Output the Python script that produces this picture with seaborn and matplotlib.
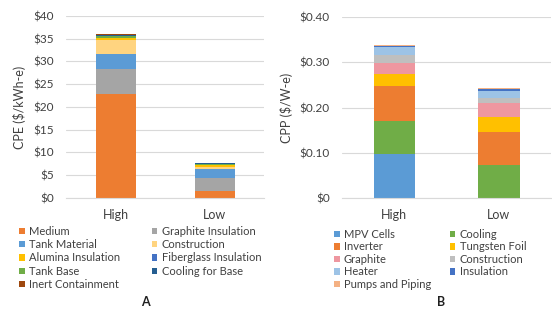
import numpy as np
import pandas as pd
import seaborn as sns
import matplotlib.pyplot as plt
from matplotlib.patches import Patch
from matplotlib.ticker import FuncFormatter

levels = ['High', 'Low']

# panel A - cost per energy
cpe_parts = ['Medium', 'Graphite Insulation', 'Tank Material', 'Construction',
             'Alumina Insulation', 'Fiberglass Insulation', 'Tank Base',
             'Cooling for Base', 'Inert Containment']
cpe_high = [22.8, 5.5, 3.2, 3.2, 0.35, 0.15, 0.35, 0.25, 0.2]
cpe_low = [1.5, 3.0, 1.8, 0.6, 0.3, 0.1, 0.2, 0.15, 0.15]
cpe_colors = ['#ED7D31', '#A5A5A5', '#5B9BD5', '#FFD480', '#FFC000',
              '#4472C4', '#70AD47', '#255E91', '#9E480E']

# panel B - cost per power
cpp_parts = ['MPV Cells', 'Cooling', 'Inverter', 'Tungsten Foil', 'Graphite',
             'Construction', 'Heater', 'Insulation', 'Pumps and Piping']
cpp_high = [0.098, 0.072, 0.077, 0.028, 0.024, 0.018, 0.017, 0.003, 0.002]
cpp_low = [0.0, 0.072, 0.073, 0.035, 0.029, 0.012, 0.016, 0.003, 0.003]
cpp_colors = ['#5B9BD5', '#70AD47', '#ED7D31', '#FFC000', '#EE97A0',
              '#BFBFBF', '#9DC3E6', '#4472C4', '#F4B183']

sns.set_theme(style="whitegrid")
plt.rcParams['font.family'] = ['Lato', 'DejaVu Sans']
txt = '#404040'


def stacked(ax, parts, high, low, colors):
    df = pd.DataFrame({'level': np.repeat(levels, len(parts)),
                       'part': parts * 2,
                       'value': high + low})
    df['top'] = df.groupby('level')['value'].cumsum()
    # draw cumulative bars from the top layer down
    for part, color in reversed(list(zip(parts, colors))):
        sns.barplot(data=df[df.part == part], x='level', y='top', order=levels,
                    color=color, saturation=1, width=0.4, errorbar=None,
                    linewidth=0, ax=ax)
    ax.grid(axis='y', color='#D9D9D9', linewidth=0.8)
    ax.grid(axis='x', visible=False)
    for s in ['left', 'right', 'top']:
        ax.spines[s].set_visible(False)
    ax.spines['bottom'].set_color('#D9D9D9')
    ax.spines['bottom'].set_linewidth(0.8)
    ax.set_xlim(-0.5, 1.5)
    ax.set_xlabel('')
    ax.tick_params(axis='y', length=0, pad=9, labelsize=8.5, labelcolor=txt)
    ax.tick_params(axis='x', length=0, pad=8, labelsize=9, labelcolor=txt)


def legend(fig, parts, colors, x0, x1, y, spacing):
    handles = [Patch(facecolor=c, edgecolor='none', label=p) for p, c in zip(parts, colors)]
    for hs, x in [(handles[0::2], x0), (handles[1::2], x1)]:
        fig.legend(handles=hs, loc='upper left', bbox_to_anchor=(x, y), frameon=False,
                   fontsize=8, handlelength=0.5, handleheight=0.5, handletextpad=0.4,
                   labelspacing=spacing, borderpad=0, borderaxespad=0, labelcolor=txt)


fig = plt.figure(figsize=(5.52, 3.09), dpi=100)
ax1 = fig.add_axes([0.120, 0.359, 0.359, 0.590])
ax2 = fig.add_axes([0.620, 0.360, 0.378, 0.584])

stacked(ax1, cpe_parts, cpe_high, cpe_low, cpe_colors)
ax1.set_ylim(0, 40)
ax1.set_yticks(np.arange(0, 41, 5))
ax1.yaxis.set_major_formatter(FuncFormatter(lambda v, _: f'${v:.0f}'))
ax1.set_ylabel('CPE ($/kWh-e)', fontsize=9, color=txt, labelpad=5)

stacked(ax2, cpp_parts, cpp_high, cpp_low, cpp_colors)
ax2.set_ylim(0, 0.4)
ax2.set_yticks(np.arange(0, 0.41, 0.1))
ax2.yaxis.set_major_formatter(FuncFormatter(lambda v, _: '$0' if v == 0 else f'${v:.2f}'))
ax2.set_ylabel('CPP ($/W-e)', fontsize=9, color=txt, labelpad=5)

legend(fig, cpe_parts, cpe_colors, 0.035, 0.275, 1 - 226 / 309, 0.2)
legend(fig, cpp_parts, cpp_colors, 0.605, 0.815, 1 - 229 / 309, 0.13)

fig.text(145 / 552, 1 - 302.5 / 309, 'A', fontsize=9, fontweight='bold', ha='center', va='center', color='#202020')
fig.text(441 / 552, 1 - 302.5 / 309, 'B', fontsize=9, fontweight='bold', ha='center', va='center', color='#202020')

plt.savefig('out.png', dpi=100)
